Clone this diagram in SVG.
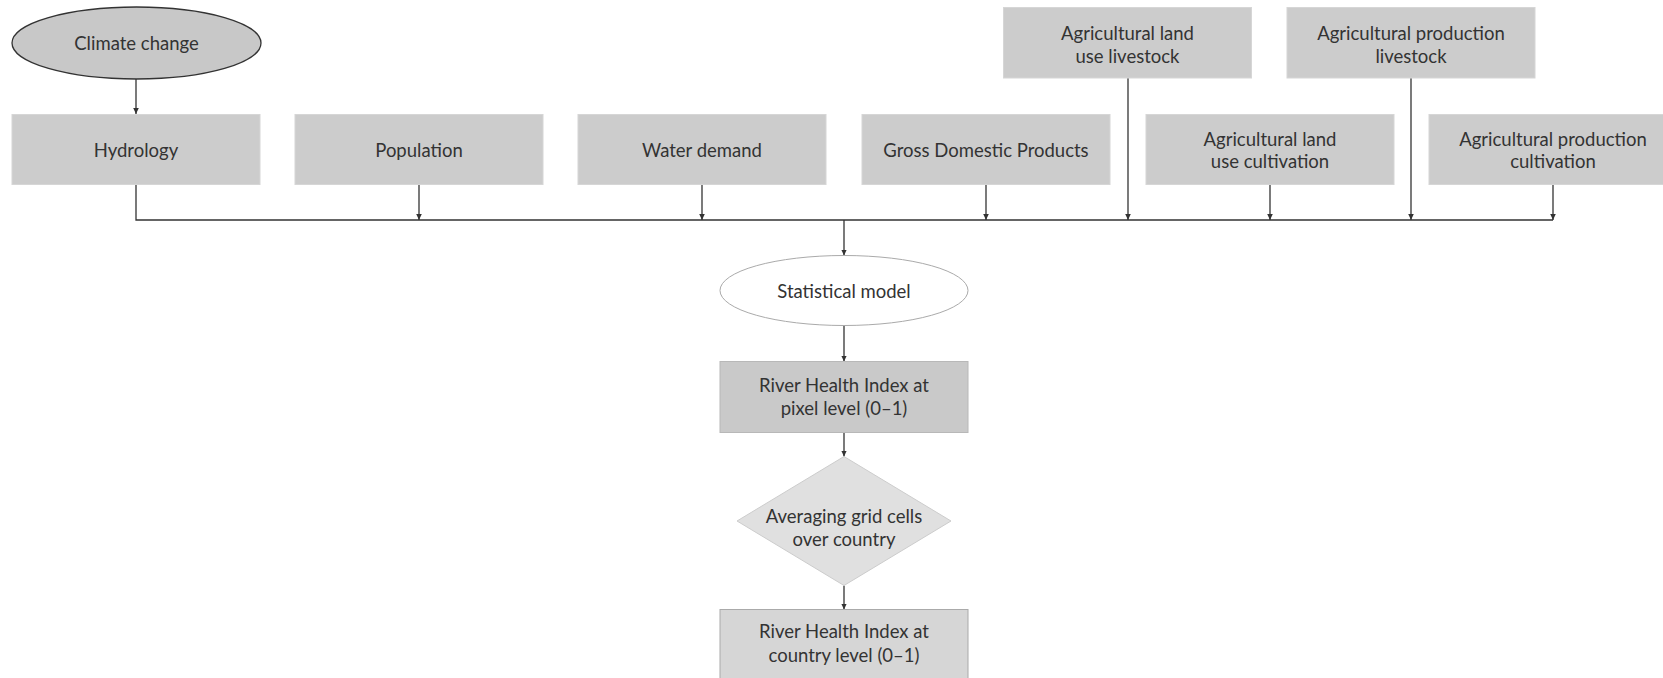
<svg xmlns="http://www.w3.org/2000/svg" width="1663" height="678" viewBox="0 0 1663 678">
<style>
text{font-family:Lato,"Open Sans","Liberation Sans",sans-serif;font-size:18.5px;fill:#333;text-anchor:middle}
.box{fill:#cccccc;stroke:#d6d6d6;stroke-width:1}
.conn{stroke:#333;stroke-width:1.3;fill:none}
</style>
<defs>
<marker id="arr" markerUnits="userSpaceOnUse" markerWidth="7" markerHeight="7" refX="6" refY="3" orient="auto">
<path d="M0,0.2 L6,3 L0,5.8 z" fill="#333"/>
</marker>
</defs>
<rect width="1663" height="678" fill="#fff"/>
<g id="connectors">
<line class="conn" x1="136" y1="79" x2="136" y2="114" marker-end="url(#arr)"/>
<polyline class="conn" points="136,184.5 136,220 1553,220"/>
<line class="conn" x1="419" y1="184.5" x2="419" y2="220" marker-end="url(#arr)"/>
<line class="conn" x1="702" y1="184.5" x2="702" y2="220" marker-end="url(#arr)"/>
<line class="conn" x1="986" y1="184.5" x2="986" y2="220" marker-end="url(#arr)"/>
<line class="conn" x1="1128" y1="78" x2="1128" y2="220" marker-end="url(#arr)"/>
<line class="conn" x1="1270" y1="184.5" x2="1270" y2="220" marker-end="url(#arr)"/>
<line class="conn" x1="1411" y1="78" x2="1411" y2="220" marker-end="url(#arr)"/>
<line class="conn" x1="1553" y1="184.5" x2="1553" y2="220" marker-end="url(#arr)"/>
<line class="conn" x1="844" y1="220" x2="844" y2="255.5" marker-end="url(#arr)"/>
<line class="conn" x1="844" y1="325.5" x2="844" y2="361.5" marker-end="url(#arr)"/>
<line class="conn" x1="844" y1="432.5" x2="844" y2="456.5" marker-end="url(#arr)"/>
<line class="conn" x1="844" y1="585.5" x2="844" y2="609.5" marker-end="url(#arr)"/>
</g>
<g id="climate-change">
<ellipse cx="136.5" cy="43" rx="124.5" ry="36" fill="#c8c8c8" stroke="#333" stroke-width="1.3"/>
<text x="136.5" y="49.5">Climate change</text>
</g>
<g id="hydrology">
<rect class="box" x="12" y="114.5" width="248" height="70"/>
<text x="136" y="156.5">Hydrology</text>
</g>
<g id="population">
<rect class="box" x="295" y="114.5" width="248" height="70"/>
<text x="419" y="156.5">Population</text>
</g>
<g id="water-demand">
<rect class="box" x="578" y="114.5" width="248" height="70"/>
<text x="702" y="156.5">Water demand</text>
</g>
<g id="gdp">
<rect class="box" x="862" y="114.5" width="248" height="70"/>
<text x="986" y="156.5">Gross Domestic Products</text>
</g>
<g id="ag-land-cultivation">
<rect class="box" x="1146" y="114.5" width="248" height="70"/>
<text x="1270" y="145.5">Agricultural land</text>
<text x="1270" y="167.8">use cultivation</text>
</g>
<g id="ag-production-cultivation">
<rect class="box" x="1429" y="114.5" width="248" height="70"/>
<text x="1553" y="145.5">Agricultural production</text>
<text x="1553" y="167.8">cultivation</text>
</g>
<g id="ag-land-livestock">
<rect class="box" x="1003.5" y="7.5" width="248" height="70.5"/>
<text x="1127.5" y="40">Agricultural land</text>
<text x="1127.5" y="62.5">use livestock</text>
</g>
<g id="ag-production-livestock">
<rect class="box" x="1287" y="7.5" width="248" height="70.5"/>
<text x="1411" y="40">Agricultural production</text>
<text x="1411" y="62.5">livestock</text>
</g>
<g id="statistical-model">
<ellipse cx="844" cy="290.5" rx="124" ry="35" fill="#fff" stroke="#aaa" stroke-width="1"/>
<text x="844" y="298">Statistical model</text>
</g>
<g id="rhi-pixel">
<rect x="720" y="361.5" width="248" height="71" fill="#c9c9c9" stroke="#b8b8b8" stroke-width="1"/>
<text x="844" y="392.3">River Health Index at</text>
<text x="844" y="415">pixel level (0–1)</text>
</g>
<g id="averaging">
<polygon points="844,456.5 951,521 844,585.5 737,521" fill="#e0e0e0" stroke="#cccccc" stroke-width="1"/>
<text x="844" y="523">Averaging grid cells</text>
<text x="844" y="545.5">over country</text>
</g>
<g id="rhi-country">
<rect x="720" y="609.5" width="248" height="75" fill="#d6d6d6" stroke="#aaa" stroke-width="1"/>
<text x="844" y="637.5">River Health Index at</text>
<text x="844" y="661.5">country level (0–1)</text>
</g>
</svg>
